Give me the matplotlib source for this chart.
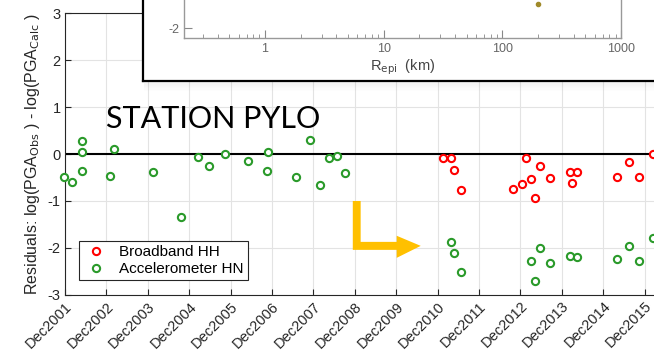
import numpy as np
import matplotlib
matplotlib.use("Agg")
import matplotlib.pyplot as plt
from matplotlib.patches import Polygon, Rectangle

plt.rcParams['font.family'] = ['Liberation Sans', 'DejaVu Sans']
plt.rcParams['axes.unicode_minus'] = False

# Residuals (decimal years) - broadband HH channel
bb_time = [2011.04, 2011.24, 2011.32, 2011.48, 2012.74, 2012.95, 2013.05, 2013.18,
           2013.26, 2013.38, 2013.63, 2014.12, 2014.29, 2014.17, 2015.24, 2015.54,
           2015.78, 2016.11]
bb_resid = [-0.09, -0.09, -0.33, -0.76, -0.74, -0.64, -0.08, -0.54,
            -0.94, -0.25, -0.52, -0.38, -0.38, -0.62, -0.48, -0.18,
            -0.50, 0.00]

# Residuals - accelerometer HN channel
acc_time = [2001.90, 2002.10, 2002.32, 2002.32, 2002.32, 2003.01, 2003.10, 2004.05,
            2004.71, 2005.12, 2005.40, 2005.79, 2006.34, 2006.83, 2006.81, 2007.49,
            2007.83, 2008.09, 2008.29, 2008.49, 2008.67, 2011.23, 2011.32, 2011.48,
            2013.18, 2013.26, 2013.38, 2013.63, 2014.12, 2014.29, 2015.24, 2015.54,
            2015.78, 2016.11]
acc_resid = [-0.48, -0.60, 0.28, 0.04, -0.36, -0.47, 0.11, -0.38,
             -1.35, -0.06, -0.26, 0.00, -0.14, 0.04, -0.36, -0.48,
             0.30, -0.67, -0.08, -0.04, -0.41, -1.87, -2.11, -2.52,
             -2.27, -2.70, -2.00, -2.31, -2.16, -2.19, -2.23, -1.95,
             -2.28, -1.79]

tick_years = np.arange(2001, 2016)
tick_pos = tick_years + 0.92
tick_labels = ["Dec%d" % y for y in tick_years]

fig = plt.figure(figsize=(6.54, 3.52), dpi=100)
ax = fig.add_axes([0.0994, 0.162, 0.9206, 0.801])

ax.grid(True, color='#e3e3e3', lw=0.8)
ax.set_axisbelow(True)
ax.axhline(0, color='black', lw=1.5, zorder=2)

ax.plot(bb_time, bb_resid, 'o', mfc='white', mec='#ff0000', mew=1.5, ms=5.2,
        ls='none', label='Broadband HH', clip_on=False, zorder=3)
ax.plot(acc_time, acc_resid, 'o', mfc='white', mec='#2a9a2a', mew=1.5, ms=5.2,
        ls='none', label='Accelerometer HN', clip_on=False, zorder=3)

ax.set_xlim(tick_pos[0], tick_pos[0] + 14.54)
ax.set_ylim(-3, 3)
ax.set_yticks([-3, -2, -1, 0, 1, 2, 3])
ax.set_xticks(tick_pos)
ax.set_xticklabels(tick_labels, rotation=45, ha='right', rotation_mode='anchor')
ax.tick_params(direction='in', labelsize=10.5, colors='#262626', length=4, pad=3)
for s in ax.spines.values():
    s.set_color('#262626')
    s.set_linewidth(0.8)
ax.spines['right'].set_visible(False)
ax.set_ylabel('Residuals: log(PGA$_{\\mathrm{Obs}}$ ) - log(PGA$_{\\mathrm{Calc}}$ )',
              fontsize=11.5, color='#262626', labelpad=4)

ax.text(2002.91, 0.55, 'STATION PYLO', family=['Lato', 'DejaVu Sans'],
        fontsize=22, ha='left', va='baseline', color='black', zorder=4)

# L-shaped pointer arrow
x1, x2, xh, tip = 2008.87, 2009.06, 2009.93, 2010.51
arrow = Polygon([(x1, -1.0), (x2, -1.0), (x2, -1.87), (xh, -1.87), (xh, -1.74),
                 (tip, -1.955), (xh, -2.21), (xh, -2.04), (x1, -2.04)],
                closed=True, fc='#ffc000', ec='none', zorder=4)
ax.add_patch(arrow)

leg = ax.legend(loc='lower left', bbox_to_anchor=(0.023, 0.053), borderaxespad=0,
                fontsize=11, fancybox=False, framealpha=1, edgecolor='#262626',
                handletextpad=0.6, borderpad=0.25, labelspacing=0.2, handlelength=1.8)
leg.get_frame().set_linewidth(0.8)

# Drop shadow under the overlaid panel
for i in range(8):
    fig.patches.append(Rectangle((0.2187 + 0.002, 0.770 - 0.0035 * (i + 1)), 1.0, 0.0035,
                                 transform=fig.transFigure, fc='black',
                                 alpha=0.06 * (8 - i) / 8, ec='none', zorder=5))

# Overlaid panel with distance axis
box = fig.add_axes([0.2187, 0.770, 0.85, 0.3])
box.set_facecolor('white')
box.set_xticks([])
box.set_yticks([])
for s in box.spines.values():
    s.set_color('black')
    s.set_linewidth(1.6)

dist = [200]
dist_resid = [-1.13]

inset = fig.add_axes([0.2813, 0.892, 0.6682, 0.2])
inset.set_xscale('log')
inset.set_xlim(0.208, 1000)
inset.set_ylim(-2.35, 0.2)
inset.set_yticks([-2])
inset.plot(dist, dist_resid, 'o', color='#a08a2a', ms=3, clip_on=False)
inset.set_facecolor('white')
for s in inset.spines.values():
    s.set_color('#999999')
    s.set_linewidth(1.0)
inset.spines['top'].set_visible(False)
inset.tick_params(which='both', direction='in', colors='#888888', labelcolor='#666666',
                  labelsize=9)
inset.tick_params(which='major', length=6)
inset.tick_params(which='minor', length=3)
inset.set_xticks([1, 10, 100, 1000])
inset.set_xticklabels(['1', '10', '100', '1000'])
inset.set_xlabel('R$_{\\mathrm{epi}}$  (km)', fontsize=10.5, color='#444444', labelpad=2)

fig.savefig('out.png', dpi=100)
